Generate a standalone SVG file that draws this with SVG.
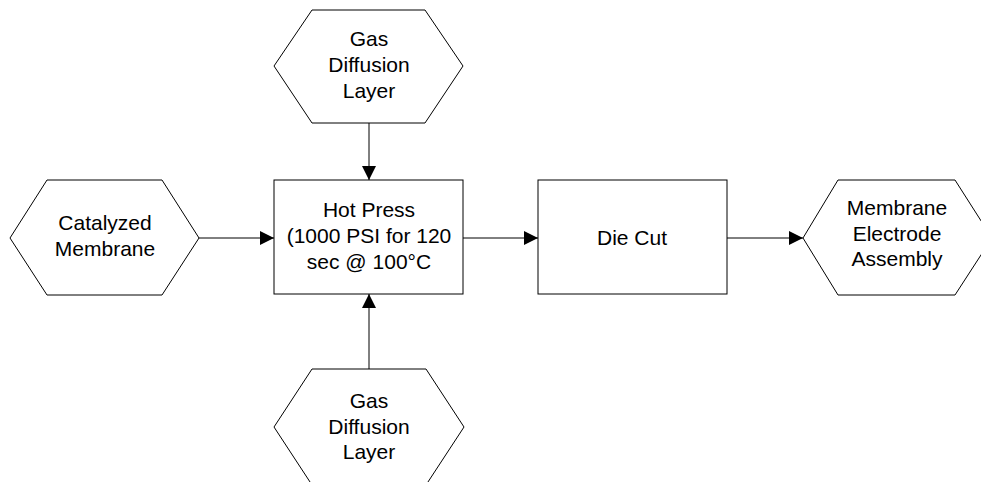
<svg xmlns="http://www.w3.org/2000/svg" width="981" height="482" viewBox="0 0 981 482">
<defs>
<style>
.shape{fill:#fff;stroke:#000;stroke-width:1}
.conn{fill:none;stroke:#000;stroke-width:1}
text{font-family:"Liberation Sans",Arial,sans-serif;font-size:21px;fill:#000;text-anchor:middle}
</style>
<marker id="arr" viewBox="0 0 14 14" refX="14" refY="7" markerWidth="14" markerHeight="14" markerUnits="userSpaceOnUse" orient="auto">
<path d="M0,0 L14,7 L0,14 Z" fill="#000"/>
</marker>
</defs>
<rect width="981" height="482" fill="#fff"/>
<g id="connectors">
<line class="conn" x1="369" y1="123" x2="369" y2="180" marker-end="url(#arr)"/>
<line class="conn" x1="369" y1="369" x2="369" y2="294" marker-end="url(#arr)"/>
<line class="conn" x1="199" y1="238" x2="274" y2="238" marker-end="url(#arr)"/>
<line class="conn" x1="463" y1="238" x2="538" y2="238" marker-end="url(#arr)"/>
<line class="conn" x1="727" y1="238" x2="803" y2="238" marker-end="url(#arr)"/>
</g>
<g id="gdl-top">
<polygon class="shape" points="312,10 425,10 463,66 425,123 312,123 274,66"/>
<text x="369" y="46">Gas</text>
<text x="369" y="72">Diffusion</text>
<text x="369" y="98">Layer</text>
</g>
<g id="catalyzed-membrane">
<polygon class="shape" points="47,180 162,180 199,238 162,295 47,295 10,238"/>
<text x="105" y="230">Catalyzed</text>
<text x="105" y="256">Membrane</text>
</g>
<g id="hot-press">
<rect class="shape" x="274" y="180" width="189" height="114"/>
<text x="369" y="217">Hot Press</text>
<text x="369" y="243">(1000 PSI for 120</text>
<text x="369" y="269">sec @ 100°C</text>
</g>
<g id="die-cut">
<rect class="shape" x="538" y="180" width="189" height="114"/>
<text x="632" y="245">Die Cut</text>
</g>
<g id="mea">
<polygon class="shape" points="838,180 955,180 992,238 955,295 838,295 803,238"/>
<text x="897" y="215">Membrane</text>
<text x="897" y="241">Electrode</text>
<text x="897" y="266">Assembly</text>
</g>
<g id="gdl-bottom">
<polygon class="shape" points="312,369 426,369 464,427 426,485 312,485 274,427"/>
<text x="369" y="408">Gas</text>
<text x="369" y="434">Diffusion</text>
<text x="369" y="459">Layer</text>
</g>
</svg>
